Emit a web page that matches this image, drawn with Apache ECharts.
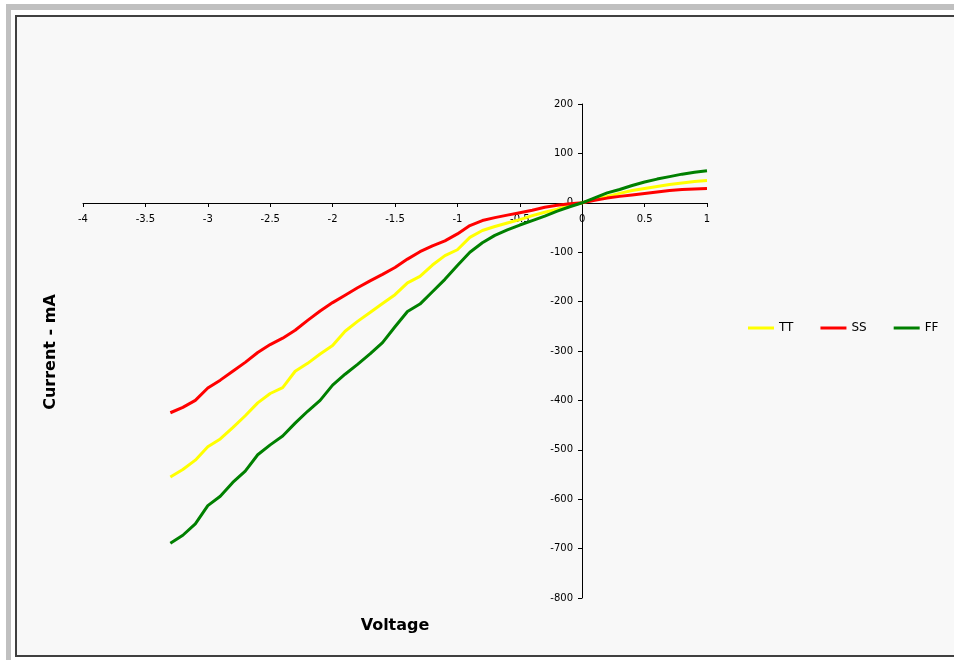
<!DOCTYPE html>
<html>
<head>
<meta charset="utf-8">
<style>
html,body{margin:0;padding:0;background:#ffffff;}
#chart{width:954px;height:660px;}
</style>
<script src="https://cdn.jsdelivr.net/npm/echarts@6/dist/echarts.min.js"></script>
</head>
<body>
<div id="chart"></div>
<script>
var voltage = [-3.3,-3.2,-3.1,-3.0,-2.9,-2.8,-2.7,-2.6,-2.5,-2.4,-2.3,-2.2,-2.1,-2.0,-1.9,-1.8,-1.7,-1.6,-1.5,-1.4,-1.3,-1.2,-1.1,-1.0,-0.9,-0.8,-0.7,-0.6,-0.5,-0.4,-0.3,-0.2,-0.1,0,0.1,0.2,0.3,0.4,0.5,0.6,0.7,0.8,0.9,1.0];
var tt = [-555,-540,-521,-494,-478,-455,-431,-405,-386,-374,-341,-325,-306,-289,-260,-240,-222,-204,-186,-162,-149,-126,-107,-95,-70,-56,-48,-41,-34,-26,-19,-13,-6,0,7,13,19,25,29,33,37,40,43,45];
var ss = [-425,-414,-400,-375,-359,-341,-323,-303,-287,-274,-258,-238,-219,-202,-187,-172,-158,-145,-131,-114,-99,-87,-77,-63,-46,-36,-30,-25,-20,-15,-9,-5,-2,0,5,9.5,13,16,19,22,25,27,28,29];
var ff = [-689,-673,-650,-613,-594,-566,-543,-510,-490,-472,-446,-422,-400,-369,-347,-327,-306,-283,-251,-220,-205,-180,-155,-127,-100,-81,-66,-55,-45,-36,-27,-17,-8,0,10,20,27,35,42,48,53,58,62,65];
var seriesNames = ['TT','SS','FF'];
var xTitle = 'Voltage';
var yTitle = 'Current - mA';

function pairs(ys){ return voltage.map(function(v,i){ return [v, ys[i]]; }); }

var chart = echarts.init(document.getElementById('chart'), null, {renderer:'canvas'});
var font = 'DejaVu Sans, Verdana, sans-serif';
var option = {
  backgroundColor: '#ffffff',
  animation: false,
  graphic: [
    {type:'rect', z:-10, silent:true, shape:{x:6,y:4,width:948,height:6}, style:{fill:'#c0c0c0'}},
    {type:'rect', z:-10, silent:true, shape:{x:6,y:4,width:5,height:656}, style:{fill:'#c0c0c0'}},
    {type:'rect', z:-9, silent:true, shape:{x:16,y:16,width:960,height:640}, style:{fill:'#f8f8f8', stroke:'#404040', lineWidth:2}},
    {type:'text', z:10, silent:true, x:395, y:626, style:{text:xTitle, font:'bold 16px DejaVu Sans', fill:'#000', align:'center', verticalAlign:'middle'}},
    {type:'text', z:10, silent:true, x:51, y:352, rotation:Math.PI/2, style:{text:yTitle, font:'bold 16px DejaVu Sans', fill:'#000', align:'center', verticalAlign:'middle'}}
  ],
  grid: {left:83, right:247, top:104, bottom:62, containLabel:false},
  legend: {
    data: seriesNames,
    left: 743, top: 317,
    icon: 'rect', itemWidth: 26, itemHeight: 3, itemGap: 27,
    textStyle: {fontSize:12, fontFamily:font, color:'#000'}
  },
  xAxis: {
    type:'value', min:-4, max:1, interval:0.5,
    position:'bottom', offset:-395,
    splitLine:{show:false},
    axisLine:{show:true, onZero:false, lineStyle:{color:'#000', width:1}},
    axisTick:{show:true, length:4, lineStyle:{color:'#000'}},
    axisLabel:{fontSize:10, fontFamily:font, color:'#000', margin:11, showMinLabel:true, showMaxLabel:true}
  },
  yAxis: {
    type:'value', min:-800, max:200, interval:100,
    position:'left', offset:-499,
    splitLine:{show:false},
    axisLine:{show:true, onZero:false, lineStyle:{color:'#000', width:1}},
    axisTick:{show:true, length:4, lineStyle:{color:'#000'}},
    axisLabel:{fontSize:10, fontFamily:font, color:'#000', margin:9, showMinLabel:true, showMaxLabel:true}
  },
  series: [
    {name:seriesNames[0], type:'line', data:pairs(tt), symbol:'none', lineStyle:{color:'#ffff00', width:3}, itemStyle:{color:'#ffff00'}},
    {name:seriesNames[1], type:'line', data:pairs(ss), symbol:'none', lineStyle:{color:'#ff0000', width:3}, itemStyle:{color:'#ff0000'}},
    {name:seriesNames[2], type:'line', data:pairs(ff), symbol:'none', lineStyle:{color:'#008000', width:3}, itemStyle:{color:'#008000'}}
  ]
};
chart.setOption(option);
</script>
</body>
</html>
